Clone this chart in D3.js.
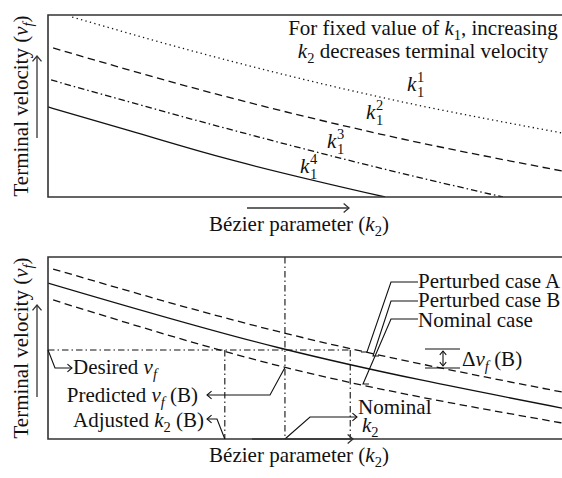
<!DOCTYPE html>
<html>
<head>
<meta charset="utf-8">
<script src="https://cdn.jsdelivr.net/npm/d3@7"></script>
<style>
  html, body { margin: 0; padding: 0; background: #fff; }
  svg { display: block; }
  text { font-family: "Liberation Serif", "Times New Roman", serif; fill: #111; }
</style>
</head>
<body>
<svg id="chart" width="562" height="478"></svg>
<script>
// Bézier parameter k2 (x) and terminal velocity vf (y), both in relative units 0–100.

// Upper panel: vf against k2 for four values of k1
const k2_k1a = [4.7, 29.6, 64.6, 100];
const vf_k1a = [98.9, 79.1, 54.9, 35.2];
const k2_k1b = [1.0, 33.5, 64.6, 100];
const vf_k1b = [81.9, 56.0, 34.6, 14.3];
const k2_k1c = [0.6, 31.5, 64.6, 88.5];
const vf_k1c = [64.3, 40.1, 15.9, 0];
const k2_k1d = [0, 16, 33.5, 65.6];
const vf_k1d = [49.5, 36.3, 22.0, 0];

// Lower panel: perturbed and nominal cases
const k2_caseA = [1.0, 45.1, 100];
const vf_caseA = [93.4, 58.8, 25.8];
const k2_nominal = [0, 45.1, 100];
const vf_nominal = [85.7, 50.0, 17.0];
const k2_caseB = [1.0, 45.1, 100];
const vf_caseB = [76.4, 40.1, 8.8];

// Reference levels in the lower panel
const vfDesired = 48.9;
const k2Nominal = 46.1;
const k2Adjusted = 34.4;
const k2CaseA = 58.8;

const topLabels = ["1", "2", "3", "4"];

const svg = d3.select("#chart");
const L = 48, R = 562;
const x = d3.scaleLinear().domain([0, 100]).range([L, R]);
const yTop = d3.scaleLinear().domain([0, 100]).range([197, 15]);
const yBot = d3.scaleLinear().domain([0, 100]).range([439, 257]);

const ink = "#111";
const frame = "#333";
const FS = 21, SFS = 14.5;

function zip(xs, ys) { return xs.map((v, i) => [v, ys[i]]); }

function panel(y, clipId) {
  const [y0, y1] = y.range();
  svg.append("clipPath").attr("id", clipId)
    .append("rect").attr("x", L).attr("y", y1).attr("width", R - L + 10).attr("height", y0 - y1);
  const g = svg.append("g").attr("clip-path", `url(#${clipId})`);
  svg.append("path")
    .attr("d", `M${R + 5},${y1}H${L}V${y0}H${R + 5}`)
    .attr("fill", "none").attr("stroke", frame).attr("stroke-width", 1.6);
  return g;
}

function curve(g, y, xs, ys, dash, w = 1.3) {
  const line = d3.line().x(d => x(d[0])).y(d => y(d[1])).curve(d3.curveMonotoneX);
  g.append("path").datum(zip(xs, ys))
    .attr("d", line)
    .attr("fill", "none").attr("stroke", ink).attr("stroke-width", w)
    .attr("stroke-dasharray", dash);
}

function poly(pts, w = 1.1, dash = null, color = ink) {
  svg.append("path").attr("d", d3.line()(pts))
    .attr("fill", "none").attr("stroke", color).attr("stroke-width", w)
    .attr("stroke-dasharray", dash).attr("stroke-linejoin", "miter");
}

function head(px, py, dir, size = 6, color = ink, w = 1.1) {
  // open chevron arrowhead at (px,py) pointing in direction dir
  const a = { r: 0, l: Math.PI, u: -Math.PI / 2, d: Math.PI / 2 }[dir];
  const p1 = [px - size * Math.cos(a - 0.7), py - size * Math.sin(a - 0.7)];
  const p2 = [px - size * Math.cos(a + 0.7), py - size * Math.sin(a + 0.7)];
  poly([p1, [px, py], p2], w, null, color);
}

// rich text: array of [string, style] where style in {"", "i", "sub", "sup"}
function rich(parent, px, py, parts, opts = {}) {
  const t = parent.append("text").attr("x", px).attr("y", py)
    .attr("font-size", opts.size || FS)
    .attr("text-anchor", opts.anchor || "start");
  if (opts.transform) t.attr("transform", opts.transform);
  let shift = 0;
  parts.forEach(([s, st]) => {
    const ts = t.append("tspan").text(s);
    let target = 0;
    if (st === "i") ts.attr("font-style", "italic");
    if (st === "sub") { ts.attr("font-size", SFS); target = 5; }
    if (st === "subi") { ts.attr("font-size", SFS).attr("font-style", "italic"); target = 5; }
    ts.attr("dy", target - shift);
    shift = target;
  });
  return t;
}

// k with a stacked superscript and subscript
function kLabel(px, py, sup) {
  svg.append("text").attr("x", px).attr("y", py).attr("font-size", FS)
    .attr("font-style", "italic").text("k");
  svg.append("text").attr("x", px + 10).attr("y", py + 6).attr("font-size", SFS).text("1");
  svg.append("text").attr("x", px + 10).attr("y", py - 9).attr("font-size", SFS).text(sup);
}

const dotted = "1.3,3.3";
const dashed = "7.5,4.5";
const dashdot = "6.5,3,1.5,3";

// ---------- upper panel ----------
const gTop = panel(yTop, "clipTop");
curve(gTop, yTop, k2_k1a, vf_k1a, dotted);
curve(gTop, yTop, k2_k1b, vf_k1b, dashed);
curve(gTop, yTop, k2_k1c, vf_k1c, dashdot);
curve(gTop, yTop, k2_k1d, vf_k1d, null);

kLabel(407, 91, topLabels[0]);
kLabel(366, 119, topLabels[1]);
kLabel(327, 148, topLabels[2]);
kLabel(300, 173, topLabels[3]);

rich(svg, 423, 35, [["For fixed value of ", ""], ["k", "i"], ["1", "sub"], [", increasing", ""]], { anchor: "middle" });
rich(svg, 423, 58, [["k", "i"], ["2", "sub"], [" decreases terminal velocity", ""]], { anchor: "middle" });

// axis titles with direction arrows
function axisTitles(y, xArrow, yArrow, xBase) {
  const [y0, y1] = y.range();
  const cy = (y0 + y1) / 2;
  rich(svg, 0, 0, [["Terminal velocity (", ""], ["v", "i"], ["f", "subi"], [")", ""]],
    { anchor: "middle", transform: `translate(28,${cy}) rotate(-90)` });
  poly([[37, yArrow[0]], [37, yArrow[1]]], 1.3, null, frame);
  head(37, yArrow[1], "u", 7, frame, 1.3);
  rich(svg, 299, xBase, [["Bézier parameter (", ""], ["k", "i"], ["2", "sub"], [")", ""]], { anchor: "middle" });
  poly([[xArrow[0], xBase - 23], [xArrow[1], xBase - 23]], 1.3, null, frame);
  head(xArrow[1], xBase - 23, "r", 7, frame, 1.3);
}
axisTitles(yTop, [247, 349], [138, 56], 231);

// ---------- lower panel ----------
const gBot = panel(yBot, "clipBot");
curve(gBot, yBot, k2_caseA, vf_caseA, dashed);
curve(gBot, yBot, k2_nominal, vf_nominal, null);
curve(gBot, yBot, k2_caseB, vf_caseB, dashed);

// reference lines
const yD = yBot(vfDesired), yFloor = yBot(0), yCeil = yBot(100);
gBot.append("line").attr("x1", x(0)).attr("x2", x(k2CaseA)).attr("y1", yD).attr("y2", yD)
  .attr("stroke", ink).attr("stroke-width", 1.1).attr("stroke-dasharray", dashdot);
gBot.append("line").attr("x1", x(k2Nominal)).attr("x2", x(k2Nominal)).attr("y1", yCeil).attr("y2", yFloor)
  .attr("stroke", ink).attr("stroke-width", 1.1).attr("stroke-dasharray", dashdot);
gBot.append("line").attr("x1", x(k2Adjusted)).attr("x2", x(k2Adjusted)).attr("y1", yD).attr("y2", yFloor)
  .attr("stroke", ink).attr("stroke-width", 1.1).attr("stroke-dasharray", dashdot);
gBot.append("line").attr("x1", x(k2CaseA)).attr("x2", x(k2CaseA)).attr("y1", yD).attr("y2", yFloor)
  .attr("stroke", ink).attr("stroke-width", 1.1).attr("stroke-dasharray", dashdot);

// callouts on the left
poly([[L, yD], [55, yD + 18], [72, yD + 18]]);
head(72, yD + 18, "r", 6);
rich(svg, 73, 374, [["Desired ", ""], ["v", "i"], ["f", "subi"]]);

const xN = x(k2Nominal), xA = x(k2Adjusted);
const yBatN = yBot(d3.interpolateNumber(vf_caseB[0], vf_caseB[1])((k2Nominal - k2_caseB[0]) / (k2_caseB[1] - k2_caseB[0])));
poly([[xN, yBatN], [270, 395], [207, 395]]);
head(207, 395, "l", 6);
rich(svg, 198, 402, [["Predicted ", ""], ["v", "i"], ["f", "subi"], [" (B)", ""]], { anchor: "end" });

poly([[xA, yFloor], [217, 419], [207, 419]]);
head(207, 419, "l", 6);
rich(svg, 204, 427, [["Adjusted ", ""], ["k", "i"], ["2", "sub"], [" (B)", ""]], { anchor: "end" });

poly([[xN, yFloor], [310, 417], [357, 417]]);
head(357, 417, "r", 6);
rich(svg, 358, 414, [["Nominal", ""]]);
rich(svg, 362, 432, [["k", "i"], ["2", "sub"]]);

// case labels on the right
poly([[418, 282], [391, 282], [367, 352], [361, 352]]);
poly([[418, 301], [391, 301], [373, 356], [379, 356]]);
poly([[418, 319], [391, 319], [363, 384], [369, 384]]);
rich(svg, 418, 288, [["Perturbed case A", ""]]);
rich(svg, 418, 307, [["Perturbed case B", ""]]);
rich(svg, 418, 327, [["Nominal case", ""]]);

// delta vf marker
poly([[425, 349], [460, 349]]);
poly([[425, 368], [460, 368]]);
poly([[443, 351], [443, 366]]);
head(443, 351, "u", 5);
head(443, 366, "d", 5);
rich(svg, 462, 366, [["Δ", ""], ["v", "i"], ["f", "subi"], [" (B)", ""]]);

axisTitles(yBot, [252, 353], [397, 305], 462);
</script>
</body>
</html>
